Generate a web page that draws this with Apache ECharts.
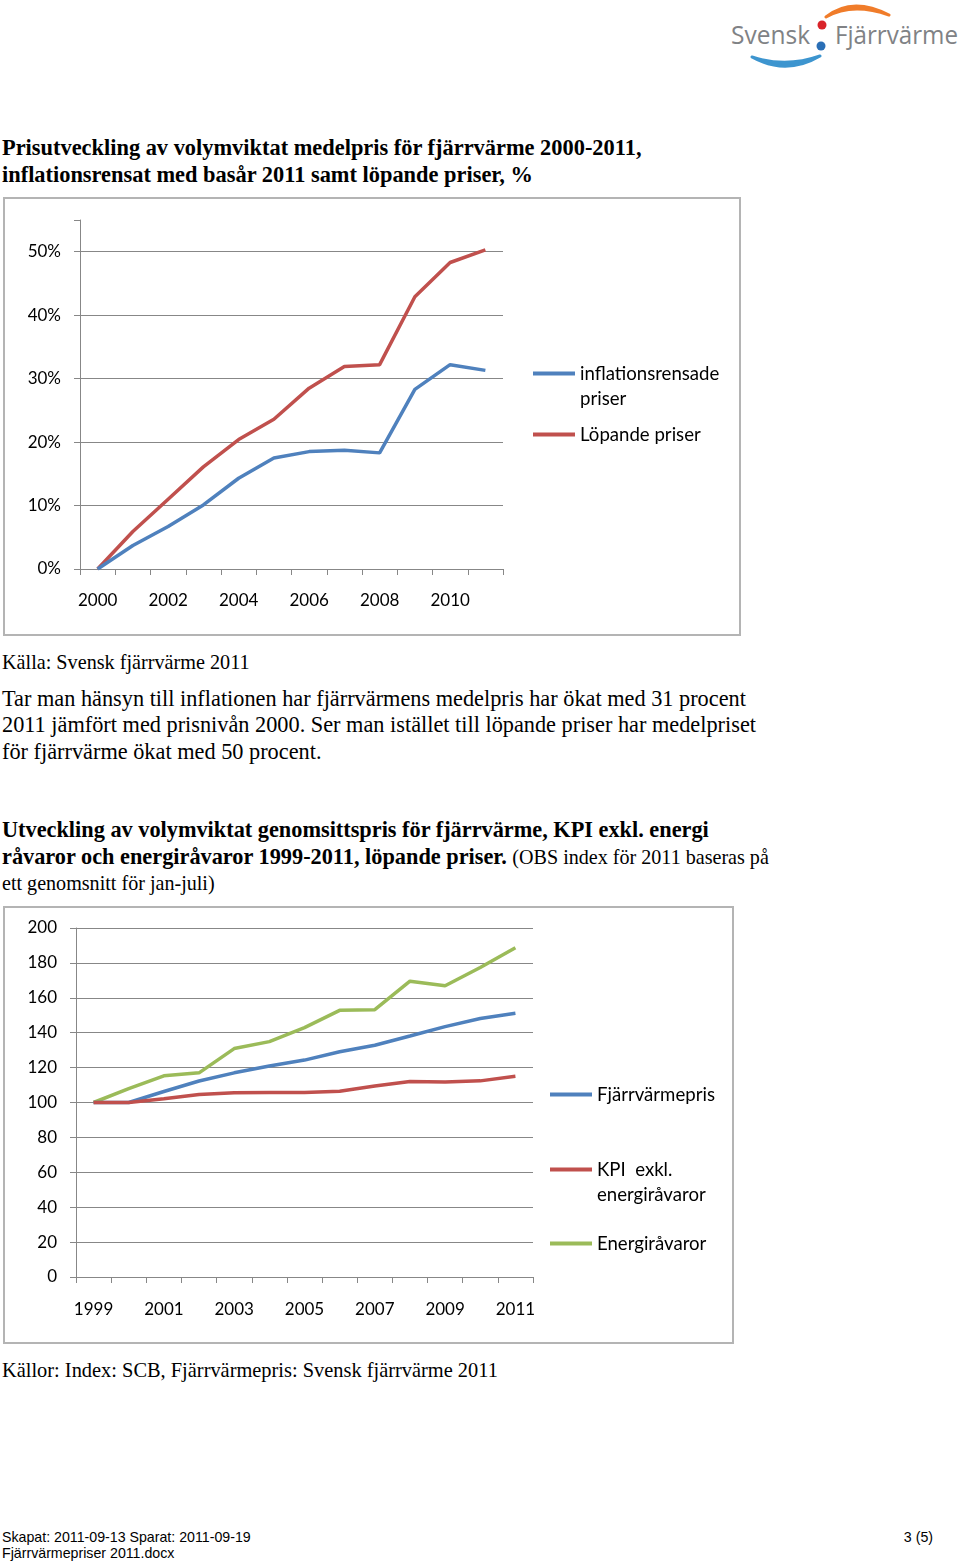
<!DOCTYPE html>
<html>
<head>
<meta charset="utf-8">
<script src="https://cdn.jsdelivr.net/npm/echarts@6/dist/echarts.min.js"></script>
<style>
  html, body { margin: 0; padding: 0; background: #fff; }
  body { width: 960px; height: 1563px; position: relative; overflow: hidden; }
  .t { position: absolute; white-space: nowrap; color: #000; }
  .serif { font-family: "Liberation Serif", "Times New Roman", serif; }
  .box { position: absolute; border: 2px solid #b4b4b4; box-sizing: border-box; }
  #chart { position: absolute; left: 0; top: 0; width: 960px; height: 1563px; }
</style>
</head>
<body>
<!-- logo -->
<svg style="position:absolute;left:720px;top:0" width="240" height="80" viewBox="720 0 240 80">
  <path d="M826,17 Q852,-4 889,15 Q852,2 826,17 Z" fill="#f07c2a" stroke="#f07c2a" stroke-width="3" stroke-linejoin="round"/>
  <path d="M752,57 Q786,76 820,56 Q786,68 752,57 Z" fill="#3d95cf" stroke="#3d95cf" stroke-width="3" stroke-linejoin="round"/>
  <circle cx="822" cy="25" r="4.5" fill="#d9242a"/>
  <circle cx="821" cy="46" r="4.5" fill="#2a6fb6"/>
  <text x="731" y="44" font-family="Open Sans, sans-serif" font-size="26" fill="#808285" textLength="79" lengthAdjust="spacingAndGlyphs">Svensk</text>
  <text x="835" y="44" font-family="Open Sans, sans-serif" font-size="26" fill="#808285" textLength="123" lengthAdjust="spacingAndGlyphs">Fjärrvärme</text>
</svg>

<div class="t serif" style="left:2px;top:134px;font-size:22.4px;font-weight:bold;line-height:27px;">Prisutveckling av volymviktat medelpris för fjärrvärme 2000-2011,</div>
<div class="t serif" style="left:2px;top:161px;font-size:22.4px;font-weight:bold;line-height:27px;">inflationsrensat med basår 2011 samt löpande priser, %</div>

<div class="box" style="left:3px;top:197px;width:738px;height:439px;"></div>

<div class="t serif" style="left:2px;top:651px;font-size:20.2px;line-height:22px;">Källa: Svensk fjärrvärme 2011</div>
<div class="t serif" style="left:2px;top:686px;font-size:22.3px;line-height:26px;">Tar man hänsyn till inflationen har fjärrvärmens medelpris har ökat med 31 procent</div>
<div class="t serif" style="left:2px;top:712px;font-size:22.3px;line-height:26px;">2011 jämfört med prisnivån 2000. Ser man istället till löpande priser har medelpriset</div>
<div class="t serif" style="left:2px;top:739px;font-size:22.3px;line-height:26px;">för fjärrvärme ökat med 50 procent.</div>

<div class="t serif" style="left:2px;top:816px;font-size:22.3px;font-weight:bold;line-height:27px;">Utveckling av volymviktat genomsittspris för fjärrvärme, KPI exkl. energi</div>
<div class="t serif" style="left:2px;top:843px;font-size:22.3px;font-weight:bold;line-height:27px;">råvaror och energiråvaror 1999-2011, löpande priser. <span style="font-weight:normal;font-size:20.1px;">(OBS index för 2011 baseras på</span></div>
<div class="t serif" style="left:2px;top:871px;font-size:20.1px;line-height:25px;">ett genomsnitt för jan-juli)</div>

<div class="box" style="left:3px;top:906px;width:731px;height:438px;"></div>

<div class="t serif" style="left:2px;top:1358px;font-size:20.4px;line-height:24px;">Källor: Index: SCB, Fjärrvärmepris: Svensk fjärrvärme 2011</div>

<div class="t" style="left:2px;top:1529px;font-family:'Liberation Sans',Arial,sans-serif;font-size:14.2px;line-height:16px;">Skapat: 2011-09-13 Sparat: 2011-09-19</div>
<div class="t" style="left:2px;top:1545px;font-family:'Liberation Sans',Arial,sans-serif;font-size:14.2px;line-height:16px;">Fjärrvärmepriser 2011.docx</div>
<div class="t" style="right:27px;top:1529px;font-family:'Liberation Sans',Arial,sans-serif;font-size:14.2px;line-height:16px;">3 (5)</div>

<div id="chart"></div>

<script>
// ---- Chart 1 data ----
const years1 = ['2000','2001','2002','2003','2004','2005','2006','2007','2008','2009','2010','2011'];
const inflationAdjusted = [0, 3.7, 6.7, 10.1, 14.3, 17.5, 18.5, 18.7, 18.3, 28.3, 32.2, 31.3];
const currentPrices = [0, 5.9, 11.0, 16.1, 20.4, 23.6, 28.5, 31.9, 32.2, 42.9, 48.3, 50.3];
const names1 = ['inflationsrensade priser', 'Löpande priser'];

// ---- Chart 2 data ----
const years2 = ['1999','2000','2001','2002','2003','2004','2005','2006','2007','2008','2009','2010','2011'];
const districtHeat = [100, 100, 106.3, 112.3, 117.0, 120.9, 124.3, 129.1, 132.8, 138.1, 143.5, 148.1, 151.1];
const kpiExEnergy = [100, 100, 102.1, 104.6, 105.6, 105.7, 105.7, 106.5, 109.4, 112.0, 111.7, 112.4, 115.0];
const energyRaw = [100, 107.9, 115.3, 117.0, 130.9, 134.9, 142.9, 152.8, 153.2, 169.5, 166.9, 177.4, 188.7];
const names2 = ['Fjärrvärmepris', 'KPI  exkl. energiråvaror', 'Energiråvaror'];

const BLUE = '#4f81bd', RED = '#c0504d', GREEN = '#9bbb59';
const GRID = '#878787';
const FONT = 'Lato';

function xAxisCfg(gridIndex, data, margin) {
  return {
    type: 'category', gridIndex, data, boundaryGap: true,
    axisLine: { lineStyle: { color: GRID, width: 1 } },
    axisTick: { show: true, interval: 0, length: 6, lineStyle: { color: GRID } },
    axisLabel: { interval: 1, color: '#000', fontFamily: FONT, fontSize: 17, margin },
    splitLine: { show: false }
  };
}

const chart = echarts.init(document.getElementById('chart'), null, { renderer: 'canvas' });
const legendText = { color: '#000', fontFamily: FONT, fontSize: 18.6, lineHeight: 25 };
function legendCfg(name, left, top, formatterText) {
  return {
    data: [name], left, top, orient: 'vertical', padding: 0,
    icon: 'rect', itemWidth: 42, itemHeight: 4, selectedMode: false,
    textStyle: legendText,
    formatter: () => formatterText
  };
}

chart.setOption({
  animation: false,
  grid: [
    { left: 80, top: 220, width: 423, height: 349, containLabel: false },
    { left: 76, top: 928, width: 457, height: 349, containLabel: false }
  ],
  xAxis: [ xAxisCfg(0, years1, 23), xAxisCfg(1, years2, 24) ],
  yAxis: [
    {
      type: 'value', gridIndex: 0, min: 0, max: 55, interval: 10,
      axisLine: { show: true, lineStyle: { color: GRID } },
      axisTick: { show: true, length: 6, lineStyle: { color: GRID } },
      axisLabel: { color: '#000', fontFamily: FONT, fontSize: 17, margin: 19,
        formatter: v => (v % 10 === 0 ? v + '%' : '') },
      splitLine: { show: true, lineStyle: { color: [GRID, GRID, GRID, GRID, GRID, GRID, 'rgba(0,0,0,0)'], width: 1 } }
    },
    {
      type: 'value', gridIndex: 1, min: 0, max: 200, interval: 20,
      axisLine: { show: true, lineStyle: { color: GRID } },
      axisTick: { show: true, length: 6, lineStyle: { color: GRID } },
      axisLabel: { color: '#000', fontFamily: FONT, fontSize: 17, margin: 19 },
      splitLine: { show: true, lineStyle: { color: GRID, width: 1 } }
    }
  ],
  legend: [
    legendCfg(names1[0], 533, 336, ' \ninflationsrensade\npriser'),
    legendCfg(names1[1], 533, 422, 'Löpande priser'),
    legendCfg(names2[0], 550, 1082, 'Fjärrvärmepris'),
    legendCfg(names2[1], 550, 1132, ' \nKPI  exkl.\nenergiråvaror'),
    legendCfg(names2[2], 550, 1231, 'Energiråvaror')
  ],
  series: [
    { name: names1[0], type: 'line', xAxisIndex: 0, yAxisIndex: 0, data: inflationAdjusted, symbol: 'none', color: BLUE, lineStyle: { color: BLUE, width: 3.5 }, z: 3 },
    { name: names1[1], type: 'line', xAxisIndex: 0, yAxisIndex: 0, data: currentPrices, symbol: 'none', color: RED, lineStyle: { color: RED, width: 3.5 }, z: 2 },
    { name: names2[0], type: 'line', xAxisIndex: 1, yAxisIndex: 1, data: districtHeat, symbol: 'none', color: BLUE, lineStyle: { color: BLUE, width: 3.5 }, z: 2 },
    { name: names2[1], type: 'line', xAxisIndex: 1, yAxisIndex: 1, data: kpiExEnergy, symbol: 'none', color: RED, lineStyle: { color: RED, width: 3.5 }, z: 3 },
    { name: names2[2], type: 'line', xAxisIndex: 1, yAxisIndex: 1, data: energyRaw, symbol: 'none', color: GREEN, lineStyle: { color: GREEN, width: 3.5 }, z: 1 }
  ]
});
</script>
</body>
</html>
